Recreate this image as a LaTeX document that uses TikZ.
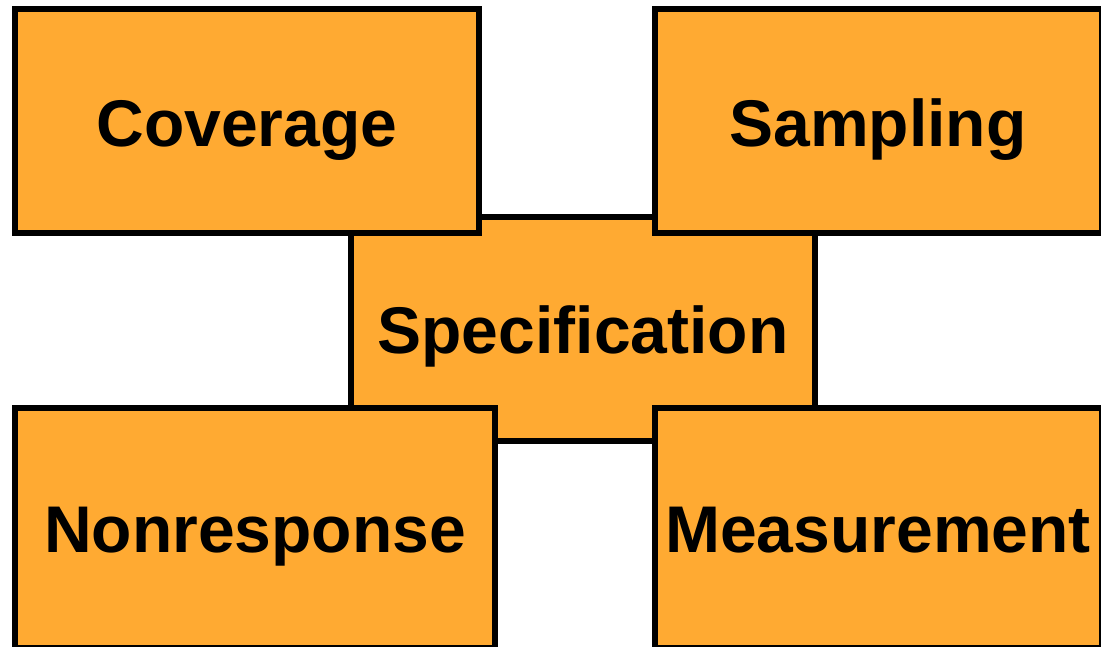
\documentclass[tikz,border=0pt]{standalone}
\usepackage{fontspec}
\setmainfont{Liberation Sans}
\definecolor{boxorange}{RGB}{255,170,50}
\begin{document}
\begin{tikzpicture}[x=1pt,y=-1pt,
  errbox/.style={draw=black,line width=6pt,fill=boxorange,line join=miter},
  errlabel/.style={anchor=base,inner sep=0pt,font=\fontsize{66}{66}\selectfont\bfseries}]
\useasboundingbox (0,0) rectangle (1101,647);
% central box first, the four corner boxes overlap it
\draw[errbox] (351,217) rectangle (815,441);
\node[errlabel] (spec) at (583,353) {Specification};
\draw[errbox] (15,9) rectangle (479,233);
\node[errlabel] (cov) at (247,147) {Coverage};
\draw[errbox] (655,9) rectangle (1102,233);
\node[errlabel] (samp) at (878,147) {Sampling};
\draw[errbox] (15,408) rectangle (495,648);
\node[errlabel] (nonr) at (255,552) {Nonresponse};
\draw[errbox] (655,408) rectangle (1102,648);
\node[errlabel] (meas) at (878,552) {Measurement};
\end{tikzpicture}
\end{document}
